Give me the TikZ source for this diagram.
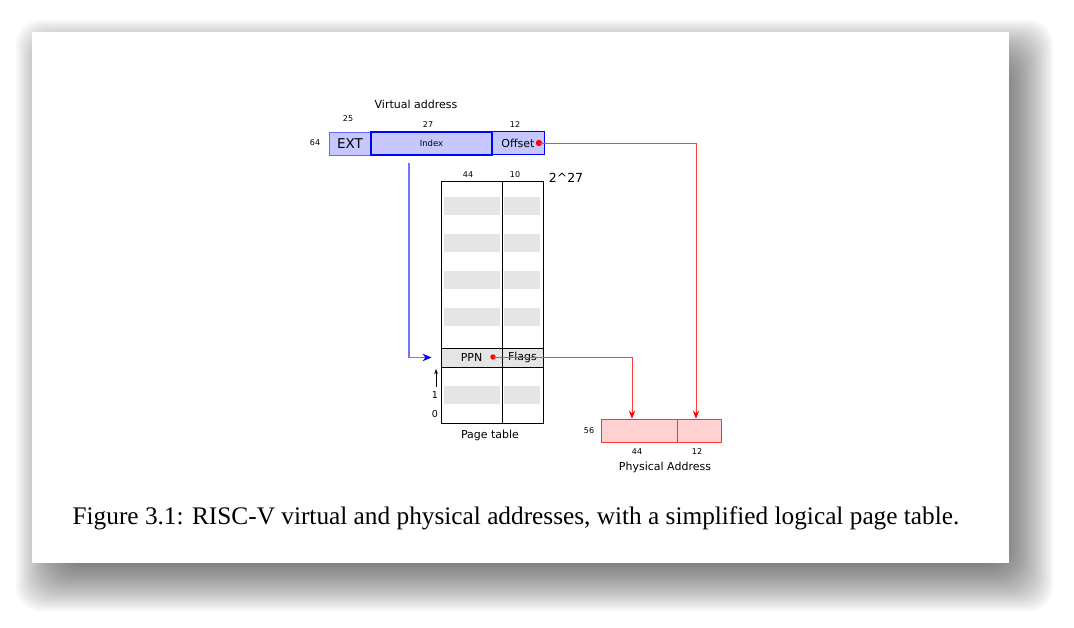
\documentclass[tikz,border=0pt]{standalone}
\usepackage{fontspec}
\setmainfont{DejaVu Sans}
\newfontfamily\capfont{Liberation Serif}
\usetikzlibrary{
    arrows.meta,
    positioning
}
\tikzset{
    vcell/.style={draw=blue, fill=blue!22, line width=1pt, inner sep=0pt, minimum height=23pt},
    pcell/.style={draw=red!80, fill=red!18, line width=0.8pt, inner sep=0pt, minimum height=23pt},
    num/.style={font=\fontsize{8}{8}\selectfont},
    lbl/.style={font=\fontsize{11}{12}\selectfont},
    stripe/.style={fill=black!10},
    rline/.style={red!75, line width=0.9pt, -{Stealth[length=8pt, width=6.5pt, red]}}
}

\begin{document}
\begin{tikzpicture}[x=1pt, y=-1pt]
                        \useasboundingbox (0,0) rectangle (1074,628);
                        \foreach \e in {30,28,...,-30}
                            \fill[black, opacity=0.028, rounded corners=24pt] (46-\e,50-\e) rectangle (1023+\e,581+\e);
                        \fill[white] (32,32) rectangle (1009,563);

                        \node[lbl] (vt) at (416,104) {Virtual address};
                        \node[vcell, draw=blue!60, line width=0.7pt, minimum width=42pt, font=\fontsize{13.5}{14}\selectfont] (ext) at (350,143.5) {EXT};
                        \node[vcell, line width=1.4pt, minimum width=121pt, font=\fontsize{8.5}{9}\selectfont] (ix) at (431.5,143.5) {Index};
                        \node[vcell, minimum width=52pt, lbl] (off) at (518,143.5) {Offset\hspace{9pt}};
                        \node[num] (n25) at (348,119) {25};
                        \node[num] (n27) at (428,125) {27};
                        \node[num] (n12) at (515,125) {12};
                        \node[num] (n64) at (315,143) {64};
                        \fill[red] (539,143) coordinate (od) circle (3.2pt);
                        \coordinate (b0) at (409,163);

                        \foreach \y in {197,234,271,308,386} {
                            \fill[stripe] (444,\y) rectangle (500,\y+18);
                            \fill[stripe] (504,\y) rectangle (540,\y+18);
                        }
                        \node[draw, line width=0.9pt, minimum width=102pt, minimum height=242pt, inner sep=0pt] (pt) at (492,302) {};
                        \draw[line width=0.9pt] (502,181) -- (502,423);
                        \node[draw, fill=black!10, line width=0.9pt, minimum width=61pt, minimum height=19pt, inner sep=0pt, lbl] (ppn) at (471.5,357.5) {PPN};
                        \node[draw, fill=black!10, line width=0.9pt, minimum width=41pt, minimum height=19pt, inner sep=0pt, lbl] (flg) at (522.5,357.5) {Flags};
                        \fill[red] (493,357) coordinate (pd) circle (2.7pt);
                        \node[num] (n44) at (468,175) {44};
                        \node[num] (n10) at (515,175) {10};
                        \node[font=\fontsize{12.5}{13}\selectfont] (nmax) at (566,178) {2\textasciicircum 27};
                        \node[font=\fontsize{9.5}{10}\selectfont] (r1) at (435,395) {1};
                        \node[font=\fontsize{9.5}{10}\selectfont] (r0) at (435,414) {0};
                        \draw[-{Stealth[length=5pt, width=3.5pt]}] (436,387) -- (436,369);
                        \node[lbl] (ptl) at (490,435) {Page table};

                        \node[pcell, minimum width=76pt] (pa1) at (639,430.5) {};
                        \node[pcell, minimum width=44pt] (pa2) at (699,430.5) {};
                        \node[num] (n56) at (589,431) {56};
                        \node[num] (m44) at (637,452) {44};
                        \node[num] (m12) at (697,452) {12};
                        \node[lbl] (pal) at (665,467) {Physical Address};

                        \draw
                        (od) edge[rline, to path={-| ([xshift=-3pt]pa2.north)}] ()
                        (pd) edge[rline, to path={-| ([xshift=-7pt]pa1.north)}] ()
                        (b0) edge[blue!55, line width=1.1pt, -{Stealth[length=9pt, width=7.5pt, blue]}, shorten >=9pt, to path={|- (ppn.west)}] ();

                        \node[font=\capfont\fontsize{25.3}{28}\selectfont] (cap) at (516,518) {Figure 3.1: RISC-V virtual and physical addresses, with a simplified logical page table.};
                    \end{tikzpicture}
\end{document}
